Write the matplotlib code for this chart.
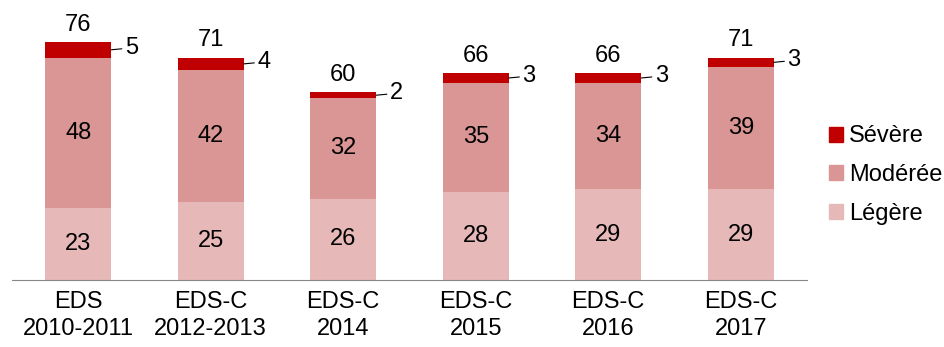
import matplotlib
matplotlib.use("Agg")
import matplotlib.pyplot as plt
from matplotlib.patches import Patch

plt.rcParams['font.family'] = ['Liberation Sans', 'DejaVu Sans']

categories = ["EDS\n2010-2011", "EDS-C\n2012-2013", "EDS-C\n2014", "EDS-C\n2015", "EDS-C\n2016", "EDS-C\n2017"]
legere = [23, 25, 26, 28, 29, 29]
moderee = [48, 42, 32, 35, 34, 39]
severe = [5, 4, 2, 3, 3, 3]
totals = [76, 71, 60, 66, 66, 71]

c_sev = "#C00000"
c_mod = "#D99694"
c_leg = "#E6B9B8"

W, H = 945, 347
fig = plt.figure(figsize=(W/100, H/100), dpi=100)
ax = fig.add_axes([12/W, 1-280/H, (807-12)/W, 270/H])

x = list(range(len(categories)))
bw = 0.5
ax.bar(x, legere, bw, color=c_leg)
bot2 = legere
ax.bar(x, moderee, bw, bottom=bot2, color=c_mod)
bot3 = [a+b for a, b in zip(legere, moderee)]
ax.bar(x, severe, bw, bottom=bot3, color=c_sev)

fs = 17
for i in x:
    ax.text(i, legere[i]/2, str(legere[i]), ha='center', va='center', fontsize=fs)
    ax.text(i, legere[i] + moderee[i]/2, str(moderee[i]), ha='center', va='center', fontsize=fs)
    top = bot3[i] + severe[i]
    ax.text(i, top + 2.0, str(totals[i]), ha='center', va='bottom', fontsize=fs)
    ymid = bot3[i] + severe[i]/2
    ax.annotate(str(severe[i]), xy=(i + bw/2, ymid), xytext=(i + bw/2 + 0.1, ymid + 0.6),
                ha='left', va='center', fontsize=fs,
                arrowprops=dict(arrowstyle='-', color='black', lw=0.8, shrinkA=0, shrinkB=0))

ax.set_xlim(-0.5, 5.5)
ax.set_ylim(0, 86.2)
ax.set_xticks(x)
ax.set_xticklabels(categories, fontsize=fs, linespacing=1.3)
ax.tick_params(axis='x', length=0, pad=8)
ax.set_yticks([])
for s in ['top', 'right', 'left']:
    ax.spines[s].set_visible(False)
ax.spines['bottom'].set_color('#888888')

handles = [Patch(color=c_sev, label='Sévère'), Patch(color=c_mod, label='Modérée'), Patch(color=c_leg, label='Légère')]
fig.legend(handles=handles, loc='center left', bbox_to_anchor=(829/W, 1-175/H), frameon=False,
           fontsize=fs, handlelength=0.6, handleheight=0.6, handletextpad=0.25, labelspacing=0.7,
           borderpad=0, borderaxespad=0)

fig.savefig("out.png", dpi=100)
